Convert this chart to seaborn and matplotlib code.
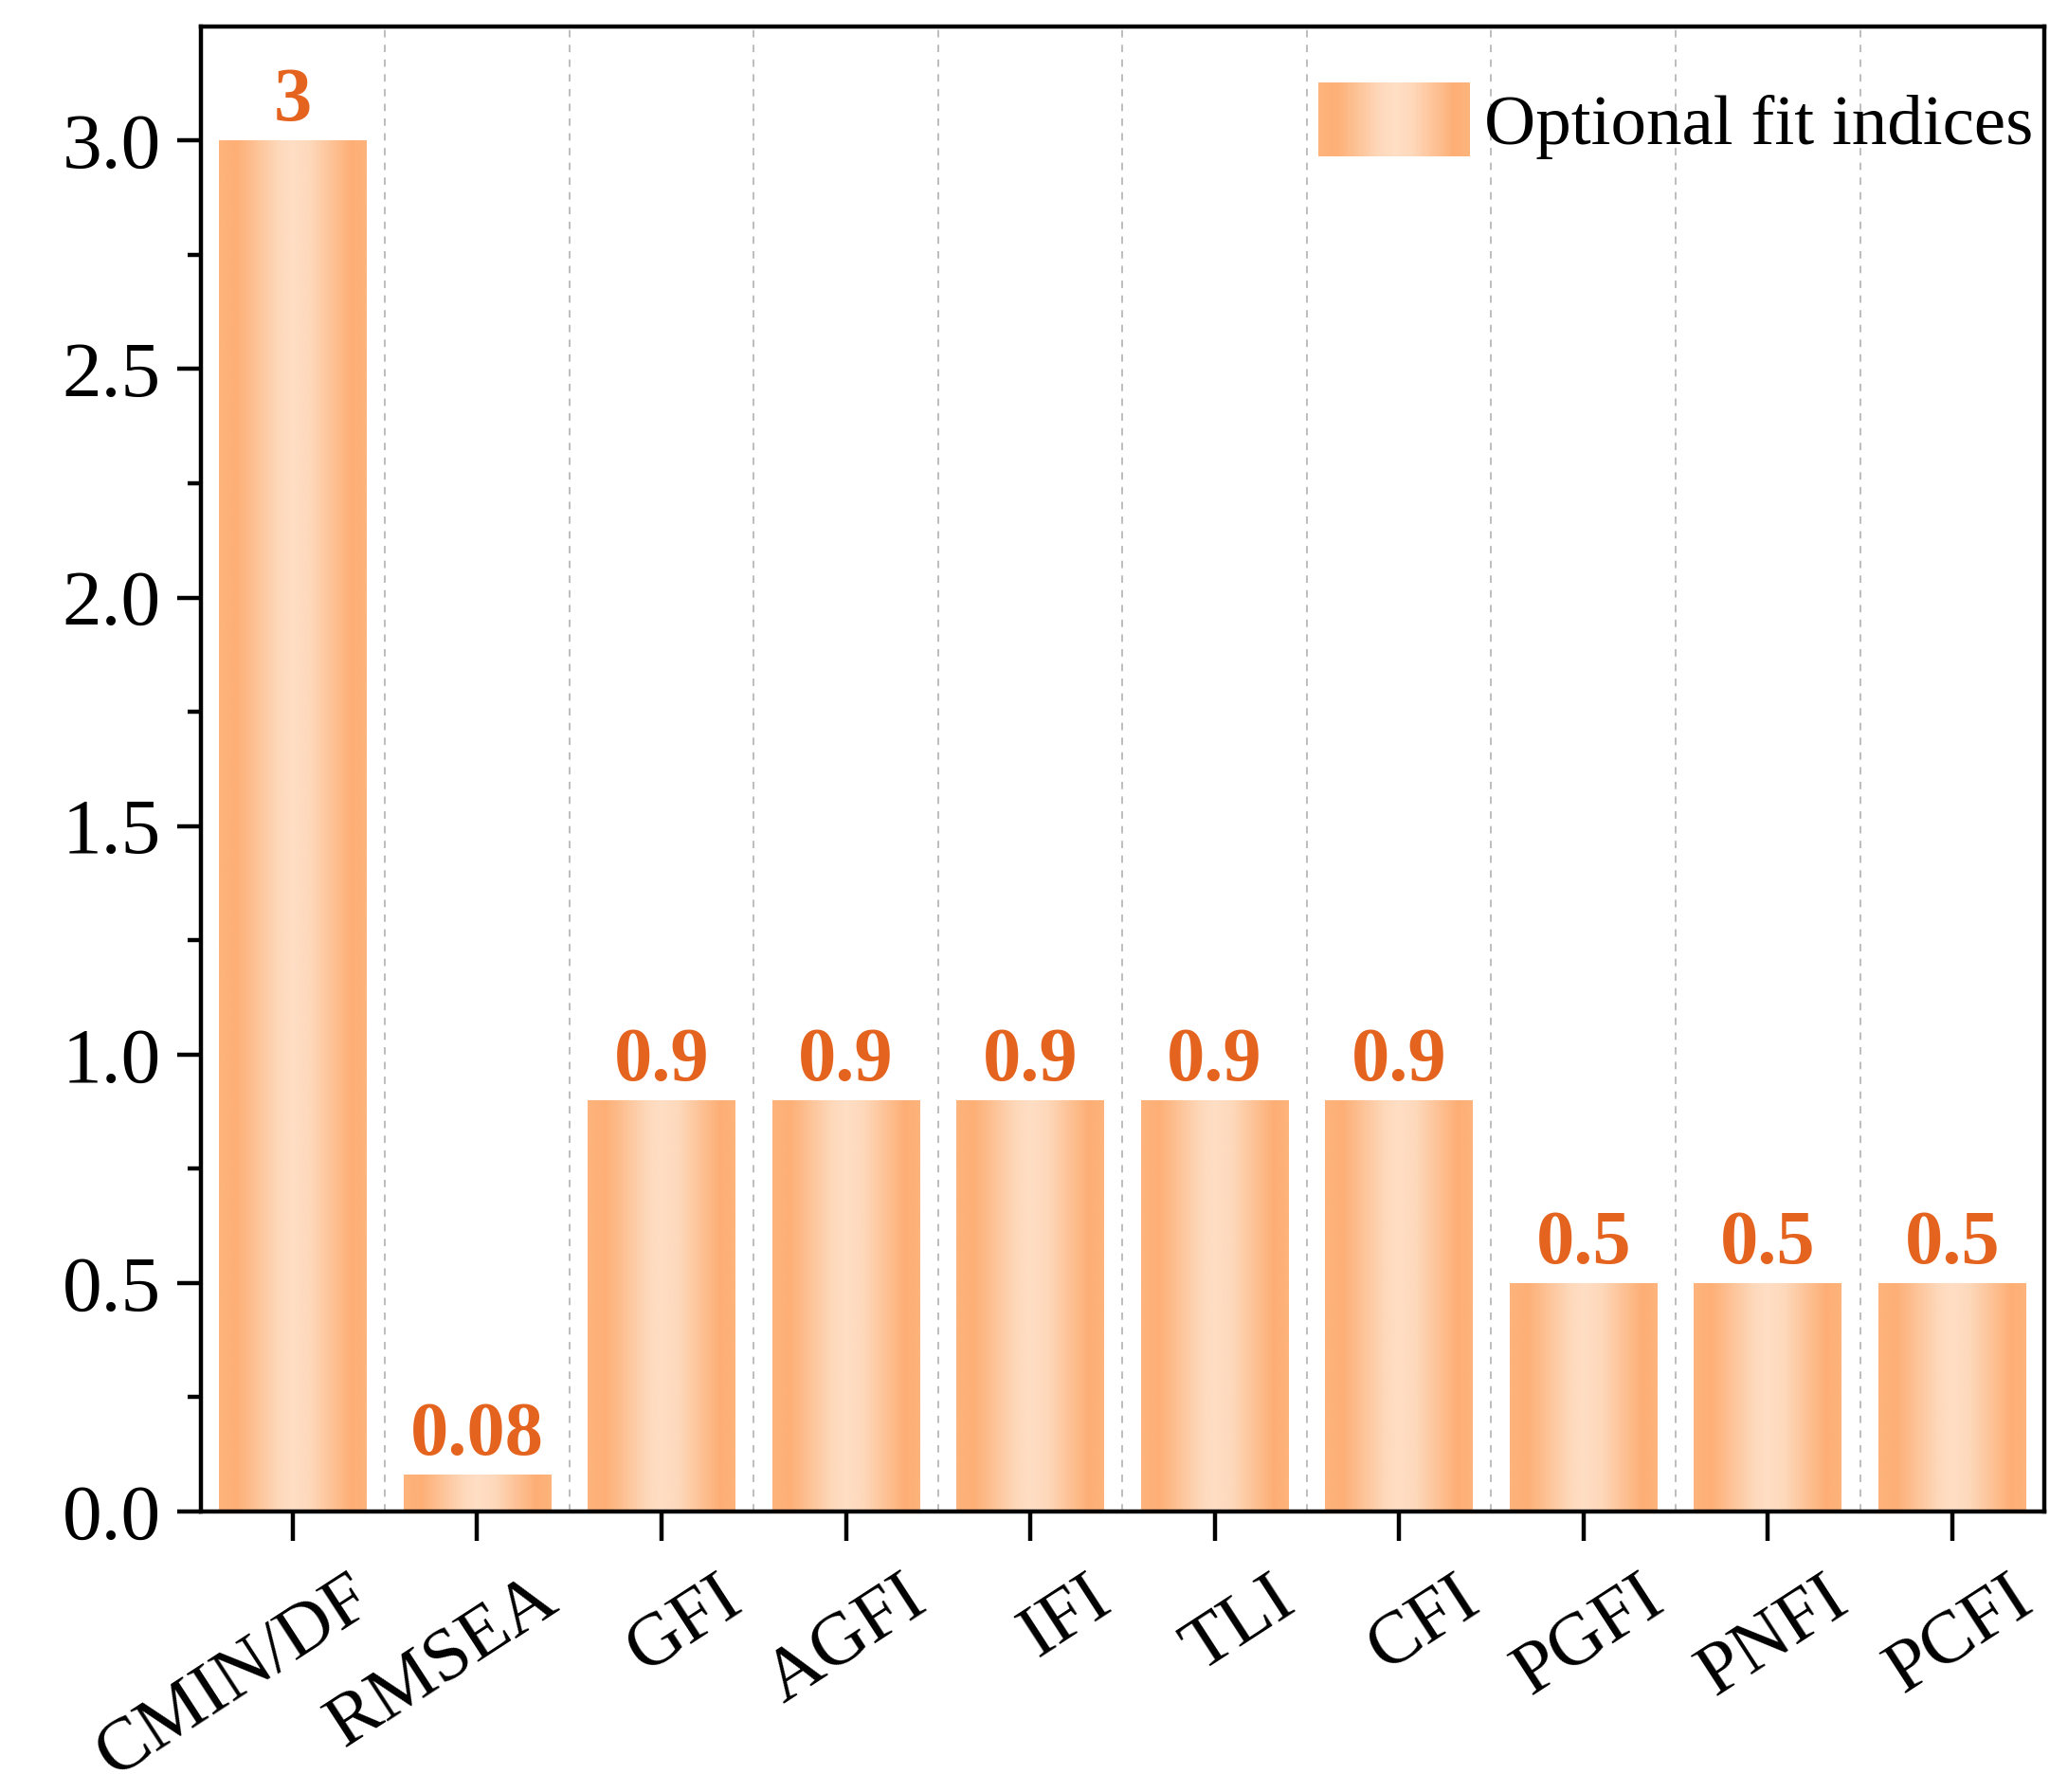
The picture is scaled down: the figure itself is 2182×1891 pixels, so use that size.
import numpy as np
import pandas as pd
import seaborn as sns
import matplotlib.pyplot as plt
import matplotlib.transforms as mtransforms
from matplotlib.patches import Rectangle
from matplotlib.legend_handler import HandlerBase
from matplotlib.colors import LinearSegmentedColormap

# Data
indices = ['CMIN/DF', 'RMSEA', 'GFI', 'AGFI', 'IFI', 'TLI', 'CFI', 'PGFI', 'PNFI', 'PCFI']
values = [3, 0.08, 0.9, 0.9, 0.9, 0.9, 0.9, 0.5, 0.5, 0.5]
series_name = 'Optional fit indices'
y_ticks = [0.0, 0.5, 1.0, 1.5, 2.0, 2.5, 3.0]

df = pd.DataFrame({'Index': indices, 'Value': values})

sns.set_style('ticks', {'text.color': 'black', 'xtick.color': 'black',
                        'ytick.color': 'black', 'axes.edgecolor': 'black'})
plt.rcParams['font.family'] = ['Liberation Serif', 'DejaVu Serif']

# horizontal gradient used inside every bar
grad = LinearSegmentedColormap.from_list(
    'bar_grad',
    [(0.0, '#FDB47C'), (0.12, '#FDAF76'), (0.40, '#FED8BA'), (0.50, '#FEDEC5'),
     (0.62, '#FED8BA'), (0.9, '#FDAE75'), (1.0, '#FDB47C')])

label_color = '#E4631F'

fig = plt.figure(figsize=(10.91, 9.455), dpi=200)
ax = fig.add_axes([0.097, 0.1566, 0.8916, 0.8287])

sns.barplot(data=df, x='Index', y='Value', color='#FDB47C', width=0.8,
            edgecolor='none', linewidth=0, ax=ax, zorder=2)

# paint the gradient over each bar
for p in ax.patches:
    x0, y0 = p.get_x(), p.get_y()
    w, h = p.get_width(), p.get_height()
    img = ax.imshow(np.linspace(0, 1, 256).reshape(1, -1), cmap=grad, aspect='auto',
                    extent=(x0, x0 + w, y0, y0 + h), interpolation='bilinear', zorder=2.1)
    img.set_clip_path(p)

# dashed separators between categories
for xv in np.arange(0.5, len(indices) - 1, 1.0):
    ax.axvline(xv, color='#BDBDBD', lw=0.7, ls=(0, (4, 4)), zorder=1)

ax.bar_label(ax.containers[0], labels=[f'{v:g}' for v in values], padding=1.5,
             fontsize=29, fontweight='bold', color=label_color)

ax.set_xlim(-0.5, len(indices) - 0.5)
ax.set_ylim(0, 3.25)
ax.set_yticks(y_ticks)
ax.set_yticklabels([f'{v:.1f}' for v in y_ticks])
ax.set_yticks(np.arange(0.25, 3.25, 0.5), minor=True)
ax.set_xlabel('')
ax.set_ylabel('')

for s in ax.spines.values():
    s.set_linewidth(1.6)
    s.set_color('black')

ax.tick_params(axis='y', which='major', length=9, width=1.6, labelsize=30, pad=6)
ax.tick_params(axis='y', which='minor', length=5, width=1.6)
ax.tick_params(axis='x', length=11, width=1.6, labelsize=28.5, pad=6)

shift = mtransforms.ScaledTranslation(21 / 72, -3 / 72, fig.dpi_scale_trans)
for lab in ax.get_xticklabels():
    lab.set_rotation(33)
    lab.set_ha('right')
    lab.set_rotation_mode('anchor')
    lab.set_transform(lab.get_transform() + shift)


class GradientHandler(HandlerBase):
    def create_artists(self, legend, orig_handle, xdescent, ydescent, width, height,
                       fontsize, trans):
        n = 60
        arts = []
        for i in range(n):
            arts.append(Rectangle((-xdescent + width * i / n, -ydescent), width / n * 1.05,
                                  height, facecolor=grad((i + 0.5) / n), edgecolor='none',
                                  transform=trans))
        return arts


proxy = Rectangle((0, 0), 1, 1)
ax.legend([proxy], [series_name], handler_map={Rectangle: GradientHandler()},
          loc='upper right', bbox_to_anchor=(0.994, 0.962), frameon=False, fontsize=27,
          handlelength=2.13, handleheight=1.22, handletextpad=0.2, borderpad=0,
          borderaxespad=0)

fig.savefig('out.png', dpi=200)
